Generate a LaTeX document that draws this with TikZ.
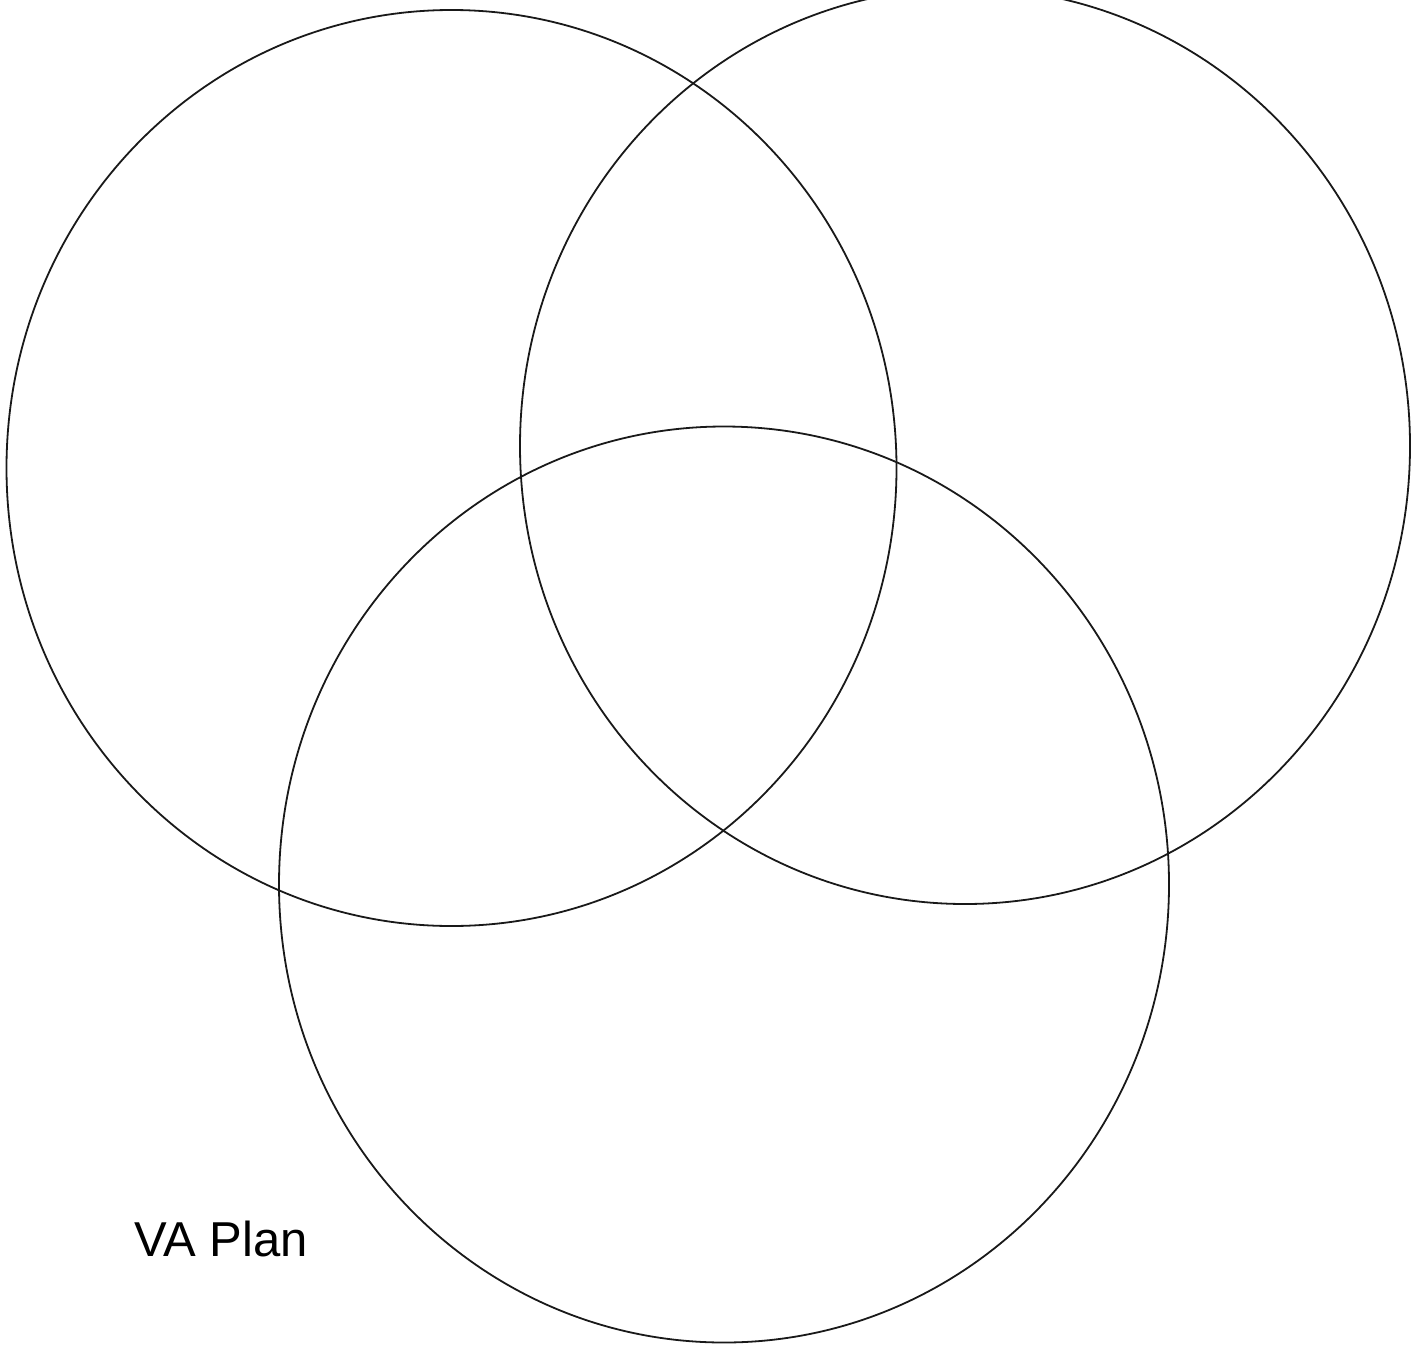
\documentclass[tikz,border=0pt]{standalone}
\usepackage{fontspec}
\setmainfont{Liberation Sans}
\begin{document}
\begin{tikzpicture}[x=1pt,y=-1pt,
  venn/.style={draw=black!90,line width=1.8pt},
  label/.style={inner sep=0pt,anchor=base west,font=\fontsize{49}{58}\selectfont}]
\useasboundingbox (0,0) rectangle (1412,1349);
\draw[venn] (451.5,468) ellipse [x radius=445, y radius=458];
\draw[venn] (965,446) ellipse [x radius=445, y radius=458];
\draw[venn] (724,884.5) ellipse [x radius=445, y radius=458];
\node[label] (va) at (134,1256) {VA Plan};
\end{tikzpicture}
\end{document}
